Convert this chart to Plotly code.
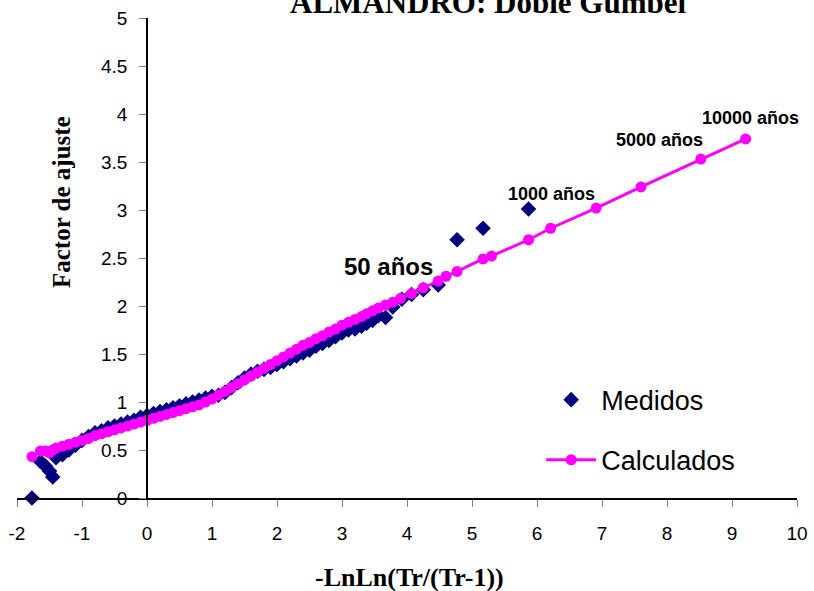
import plotly.graph_objects as go

# ---- data ----
med_x = [-1.77, -1.64, -1.56, -1.50, -1.45, -1.40, -1.30, -1.20, -1.10, -1.00,
         -0.90, -0.80, -0.70, -0.60, -0.50, -0.40, -0.30, -0.20, -0.10, 0.00,
         0.10, 0.20, 0.30, 0.40, 0.50, 0.60, 0.70, 0.80, 0.90, 1.00,
         1.10, 1.20, 1.30, 1.40, 1.50, 1.60, 1.70, 1.80, 1.90, 2.00,
         2.10, 2.20, 2.30, 2.40, 2.50, 2.60, 2.70, 2.80, 2.90, 3.00,
         3.10, 3.20, 3.30, 3.38, 3.47, 3.56, 3.67, 3.78, 3.92, 4.07,
         4.25, 4.48, 4.77, 5.17, 5.87]
med_y = [0.00, 0.38, 0.33, 0.28, 0.22, 0.42, 0.45, 0.50, 0.55, 0.60,
         0.64, 0.68, 0.70, 0.73, 0.75, 0.77, 0.79, 0.81, 0.84, 0.86,
         0.88, 0.90, 0.92, 0.94, 0.96, 0.98, 1.00, 1.02, 1.04, 1.06,
         1.07, 1.10, 1.15, 1.20, 1.25, 1.29, 1.32, 1.34, 1.36, 1.39,
         1.42, 1.45, 1.48, 1.51, 1.54, 1.58, 1.61, 1.64, 1.68, 1.72,
         1.75, 1.76, 1.79, 1.82, 1.85, 1.90, 1.88, 1.99, 2.07, 2.12,
         2.17, 2.22, 2.69, 2.81, 3.01]

calc_x = [-1.77, -1.64, -1.56, -1.50, -1.45, -1.40, -1.30, -1.20, -1.10, -1.00,
          -0.90, -0.80, -0.70, -0.60, -0.50, -0.40, -0.30, -0.20, -0.10, 0.00,
          0.10, 0.20, 0.30, 0.40, 0.50, 0.60, 0.70, 0.80, 0.90, 1.00,
          1.10, 1.20, 1.30, 1.40, 1.50, 1.60, 1.70, 1.80, 1.90, 2.00,
          2.10, 2.20, 2.30, 2.40, 2.50, 2.60, 2.70, 2.80, 2.90, 3.00,
          3.10, 3.20, 3.30, 3.38, 3.47, 3.56, 3.67, 3.78, 3.90, 4.07,
          4.25, 4.48, 4.60, 4.77, 5.17, 5.30, 5.87, 6.21, 6.91, 7.60,
          8.52, 9.21]
calc_y = [0.43, 0.49, 0.49, 0.47, 0.50, 0.52, 0.54, 0.56, 0.58, 0.60,
          0.62, 0.65, 0.67, 0.69, 0.71, 0.73, 0.75, 0.77, 0.79, 0.81,
          0.83, 0.85, 0.87, 0.89, 0.91, 0.93, 0.95, 0.97, 1.00, 1.03,
          1.07, 1.11, 1.15, 1.19, 1.23, 1.27, 1.31, 1.35, 1.39, 1.43,
          1.47, 1.51, 1.55, 1.59, 1.62, 1.66, 1.69, 1.73, 1.76, 1.80,
          1.83, 1.86, 1.89, 1.92, 1.95, 1.98, 2.01, 2.04, 2.08, 2.13,
          2.19, 2.26, 2.31, 2.36, 2.49, 2.52, 2.69, 2.81, 3.02, 3.24,
          3.53, 3.74]

x_ticks = [-2, -1, 0, 1, 2, 3, 4, 5, 6, 7, 8, 9, 10]
x_tick_text = ["-2", "-1", "0", "1", "2", "3", "4", "5", "6", "7", "8", "9", "10"]

labels = ["50 años", "1000 años", "5000 años", "10000 años"]
label_x = [3.71, 6.23, 7.89, 9.28]
label_y = [2.41, 3.17, 3.73, 3.96]

fig = go.Figure()
fig.add_trace(go.Scatter(
    x=med_x, y=med_y, mode="markers", name="Medidos", legendgroup="a",
    marker=dict(symbol="diamond", size=12, color="#000080",
                line=dict(width=0)),
    cliponaxis=False))
fig.add_trace(go.Scatter(
    x=calc_x, y=calc_y, mode="lines+markers", name="Calculados", legendgroup="b",
    line=dict(color="#FF00FF", width=3),
    marker=dict(symbol="circle", size=11, color="#FF00FF"),
    cliponaxis=False))

sans = "Liberation Sans, Arial, sans-serif"
for i, t in enumerate(labels):
    fig.add_annotation(
        x=label_x[i], y=label_y[i], text="<b>" + t + "</b>", showarrow=False,
        font=dict(family=sans, size=24 if i == 0 else 18, color="black"))

serif = "Liberation Serif, Times New Roman, serif"
fig.add_annotation(text="<b>ALMANDRO: Doble Gumbel</b>", xref="paper", yref="paper",
                   x=(488 - 17) / 780, y=1 - 4 / 480, xanchor="center", yanchor="bottom",
                   showarrow=False, font=dict(family=serif, size=31))
fig.add_annotation(text="<b>-LnLn(Tr/(Tr-1))</b>", xref="paper", yref="paper",
                   x=(409 - 17) / 780, y=-(577 - 498) / 480, xanchor="center", yanchor="middle",
                   showarrow=False, font=dict(family=serif, size=26))
fig.add_annotation(text="<b>Factor de ajuste</b>", xref="paper", yref="paper", textangle=-90,
                   x=(61 - 17) / 780, y=(498 - 202) / 480, xanchor="center", yanchor="middle",
                   showarrow=False, font=dict(family=serif, size=25))

fig.update_layout(
    width=814, height=591,
    margin=dict(l=17, r=17, t=18, b=93, autoexpand=False),
    paper_bgcolor="white", plot_bgcolor="white",
    font=dict(family=sans, size=19, color="black"),
    showlegend=True,
    legend=dict(x=0.672, y=0.255, xanchor="left", yanchor="top",
                font=dict(size=27, color="black"), bgcolor="rgba(0,0,0,0)",
                tracegroupgap=22, itemwidth=50),
    xaxis=dict(range=[-2, 10], tickvals=x_ticks, ticktext=x_tick_text,
               showline=True, linecolor="black",
               linewidth=1.5, ticks="outside", ticklen=7, tickcolor="#808080",
               showgrid=False, zeroline=False, ticklabelstandoff=10),
    yaxis=dict(range=[0, 5], dtick=0.5, tick0=0, showline=True, linecolor="black",
               linewidth=1.5, ticks="outside", ticklen=7, tickcolor="#808080",
               showgrid=False, zeroline=False, anchor="free", position=1/6,
               ticklabelstandoff=8),
)

fig.write_html("out.html", config={"displayModeBar": False},
               post_script="document.body.style.margin='0';document.body.style.overflow='hidden';")
